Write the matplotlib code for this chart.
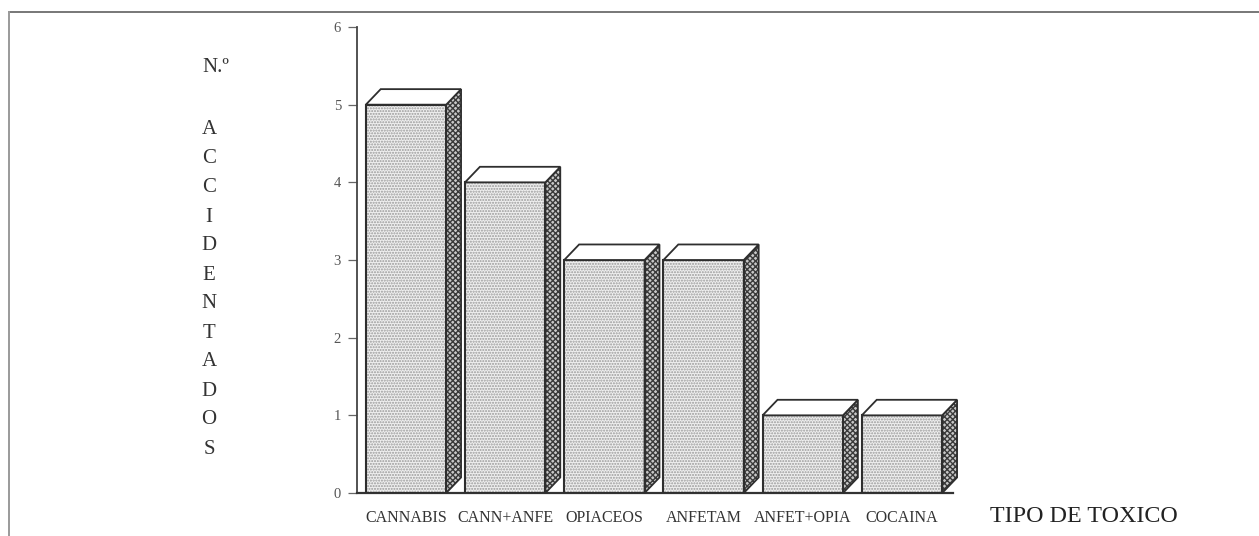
import matplotlib
matplotlib.use("Agg")
import matplotlib.pyplot as plt
from matplotlib.patches import Polygon, Rectangle
from matplotlib.lines import Line2D

# data
categorias = ['CANNABIS', 'CANN+ANFE', 'OPIACEOS', 'ANFETAM', 'ANFET+OPIA', 'COCAINA']
accidentados = [5, 4, 3, 3, 1, 1]
yticks = [0, 1, 2, 3, 4, 5, 6]
ylabel_letras = list('ACCIDENTADOS')

plt.rcParams['font.family'] = ['Liberation Serif', 'DejaVu Serif']

W, H = 1259, 536
fig = plt.figure(figsize=(W / 100, H / 100), dpi=100)
fig.patch.set_facecolor('white')

# scanned page frame (top and left rule)
fig.add_artist(Line2D([9 / W, 1], [1 - 12 / H, 1 - 12 / H], color='#777777', lw=1.4))
fig.add_artist(Line2D([9 / W, 9 / W], [0, 1 - 12 / H], color='#9a9a9a', lw=1.4))

ax = fig.add_axes([357 / W, 43 / H, 596 / W, 466 / H])
ax.set_xlim(-0.494, 5.514)
ax.set_ylim(0, 6)
ax.patch.set_alpha(0)

for s in ['top', 'right']:
    ax.spines[s].set_visible(False)
ax.spines['left'].set_color('#444444')
ax.spines['bottom'].set_color('#333333')
ax.spines['left'].set_linewidth(1.3)
ax.spines['bottom'].set_linewidth(1.6)

ax.set_yticks(yticks)
ax.set_yticklabels([str(t) for t in yticks], fontsize=10.5, color='#555555')
ax.tick_params(axis='y', length=6.5, width=0.9, color='#666666', pad=5)
ax.set_xticks(range(len(categorias)))
ax.set_xticklabels(categorias, fontsize=11.5, color='#333333')
ax.tick_params(axis='x', length=0, pad=12)

bw = 0.81      # front face width
dx = 0.15      # depth, x units
dy = 0.2       # depth, y units
edge = '#2e2e2e'

for i, v in enumerate(accidentados):
    x0 = i - bw / 2
    x1 = i + bw / 2
    # front face, fine dotted grey
    ax.add_patch(Rectangle((x0, 0), bw, v, facecolor='#efefef', edgecolor='#9a9a9a',
                           hatch='......', lw=0, zorder=3))
    ax.add_patch(Rectangle((x0, 0), bw, v, fill=False, edgecolor=edge, lw=1.5, zorder=4))
    # side face, dark cross hatch
    side = [(x1, 0), (x1 + dx, dy), (x1 + dx, v + dy), (x1, v)]
    ax.add_patch(Polygon(side, closed=True, facecolor='#c8c8c8', edgecolor='#3a3a3a',
                         hatch='xxxxxx', lw=0, zorder=3, clip_on=False))
    ax.add_patch(Polygon(side, closed=True, fill=False, edgecolor=edge, lw=1.3,
                         zorder=4, clip_on=False))
    # top face, white
    top = [(x0, v), (x0 + dx, v + dy), (x1 + dx, v + dy), (x1, v)]
    ax.add_patch(Polygon(top, closed=True, facecolor='white', edgecolor=edge,
                         lw=1.3, zorder=4, clip_on=False))

# x axis title
fig.text(990 / W, 1 - 517 / H, 'TIPO DE TOXICO', fontsize=17.3, color='#222222',
         ha='left', va='center')

# vertical stacked y axis title
fig.text(202 / W, 1 - 68 / H, 'N.º', fontsize=15, color='#333333', ha='left', va='center')
for k, letra in enumerate(ylabel_letras):
    fig.text(209 / W, 1 - (130 + 29 * k) / H, letra, fontsize=15, color='#333333',
             ha='center', va='center')

fig.savefig('out.png', dpi=100, facecolor='white')
